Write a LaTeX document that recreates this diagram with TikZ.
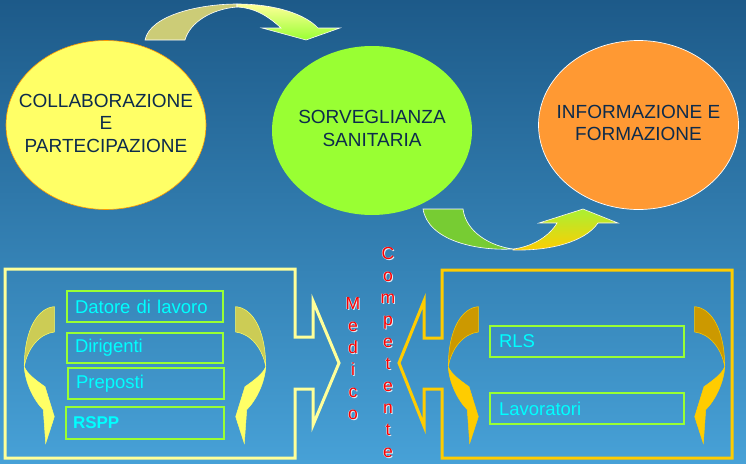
\documentclass[tikz,border=0pt]{standalone}
\usepackage{fontspec}
\setmainfont{Liberation Sans}
\usepackage{tikz}
\usetikzlibrary{shapes.geometric,positioning,calc}
\definecolor{sfondoalto} {HTML}{1D5A89}
\definecolor{sfondomedio}{HTML}{3383B6}
\definecolor{sfondobasso}{HTML}{47A1D7}
\definecolor{giallo}     {HTML}{FFFF66}
\definecolor{verde}      {HTML}{99FF33}
\definecolor{arancio}    {HTML}{FF9933}
\definecolor{testoscuro} {HTML}{0D2B4C}
\definecolor{ciano}      {HTML}{00FFFF}
\definecolor{cornicegialla}{HTML}{FFFF99}
\definecolor{corniceoro} {HTML}{FFCC00}
\definecolor{kaki}       {HTML}{CCCC77}
\definecolor{kakiscuro}  {HTML}{CCCC55}
\definecolor{oroscuro}   {HTML}{CC9900}
\definecolor{verdeprato} {HTML}{77CC33}
\definecolor{lime}       {HTML}{AAF033}
\definecolor{ombra}      {HTML}{E4ECF2}
\newcommand\contorno[1]{\rlap{\color{ombra}\hspace{1pt}\raisebox{-1pt}{#1}}\rlap{\color{ombra}\hspace{-0.5pt}\raisebox{0.5pt}{#1}}#1}
\newcommand\righe[1]{\makebox[0pt]{\begin{tabular}{@{}c@{}}#1\end{tabular}}}

\begin{document}
\begin{tikzpicture}[
  x=1pt, y=-1pt,
  tema/.style   ={ellipse,inner sep=0pt,minimum width=200,minimum height=169,
                  text=testoscuro,font=\fontsize{19}{22.5}\selectfont},
  ruolo/.style  ={draw=verde,line width=1.1,minimum height=31,inner xsep=8pt,
                  align=left,text=ciano,font=\fontsize{18.5}{20}\selectfont},
  cornice/.style={line width=3,line join=miter},
  lettera/.style={inner sep=0pt,text height=12,text depth=3,text=red,
                  font=\fontsize{17.5}{17}\selectfont},
  pics/frecciacurva/.style 2 args={code={
    \filldraw[fill=#1,draw=#2,line width=0.5] (0,0)
      .. controls (-16,1) and (-30,22) .. (-30,60)
      .. controls (-27,42) and (-15,27) .. (0,25.3) -- cycle;
    \filldraw[fill=#2,draw=#2,line width=0.5] (-30,60)
      .. controls (-29.3,75) and (-21,93) .. (-11,103)
      -- (-8.6,136.6) -- (0,110) -- (-9.3,80)
      .. controls (-19.3,73) and (-27.6,66.6) .. (-30,60) -- cycle;
  }}
]
%% Sfondo
\useasboundingbox (0,0) rectangle (746,463);
\shade[top color=sfondoalto,middle color=sfondomedio,bottom color=sfondobasso]
  (0,0) rectangle (746,463);
%% Ellissi
\node[tema,fill=giallo,draw=orange!80!yellow,line width=0.6] (collab) at (106,125)
  {\righe{COLLABORAZIONE\\E\\PARTECIPAZIONE}};
\node[tema,fill=verde] (sorv) at (372,130.5) {\righe{SORVEGLIANZA\\SANITARIA}};
\node[tema,fill=arancio,draw=white,line width=0.7] (info) at (638.5,125)
  {\righe{INFORMAZIONE E\\FORMAZIONE}};
%% Freccia curva in alto (collab -> sorv)
\filldraw[fill=kaki,draw=white,line width=0.6] (145,40)
  .. controls (150,15) and (200,4) .. (237,4) -- (237,7)
  .. controls (212,9) and (190,22) .. (185,40) -- cycle;
\filldraw[top color=yellow!40!white,bottom color=verde,draw=white,line width=0.6] (237,4)
  .. controls (275,4) and (305,14) .. (318,28) -- (340,28) -- (306,40)
  -- (262,28) -- (281,28) .. controls (268,16) and (255,8) .. (237,7) -- cycle;
%% Freccia curva in basso (sorv -> info)
\filldraw[fill=verdeprato,draw=white,line width=0.6] (423,209) -- (463,209)
  .. controls (466,232) and (490,246) .. (513,249)
  .. controls (475,251) and (428,240) .. (423,209) -- cycle;
\filldraw[top color=lime,bottom color=corniceoro,draw=white,line width=0.6] (513,250)
  .. controls (550,251) and (585,242) .. (598,223) -- (618,223) -- (583,209)
  -- (539,223) -- (557,223) .. controls (548,238) and (530,247) .. (513,249) -- cycle;
%% Riquadro sinistro (freccia verso destra)
\draw[cornice,draw=cornicegialla] (5,269) -- (295,269) -- (295,337) -- (313,337)
  -- (313,301) -- (339,363) -- (313,425) -- (313,389) -- (295,389)
  -- (295,458) -- (5,458) -- cycle;
\node[ruolo,text width=140] (datore)    at (145,306.5) {Datore di lavoro};
\node[ruolo,text width=140,minimum height=30] (dirigenti) at (145,348) {Dirigenti};
\node[ruolo,text width=140] (preposti)  at (146,383.5) {Preposti};
\node[ruolo,text width=144,line width=2.4,minimum height=32,inner xsep=7pt,
      font=\fontsize{17}{18}\selectfont\bfseries] (rspp) at (145,423) {RSPP};
\pic at (54.3,306.7) {frecciacurva={kakiscuro}{giallo}};
\pic[xscale=-1] at (235.7,306.7) {frecciacurva={kakiscuro}{giallo}};
%% Riquadro destro (freccia verso sinistra)
\draw[cornice,draw=corniceoro] (442,270) -- (732,270) -- (732,458) -- (442,458)
  -- (442,389) -- (424,389) -- (424,426) -- (399,363) -- (424,301)
  -- (424,338) -- (442,338) -- cycle;
\node[ruolo,text width=176,inner xsep=9pt] (rls)        at (587,341.5) {RLS};
\node[ruolo,text width=176,inner xsep=9pt] (lavoratori) at (587,408.5) {Lavoratori};
\pic at (478.3,306.7) {frecciacurva={oroscuro}{corniceoro}};
\pic[xscale=-1] at (694.7,306.7) {frecciacurva={oroscuro}{corniceoro}};
%% Medico Competente (verticale)
\foreach \c [count=\i from 0] in {M,e,d,i,c,o}
  \node[lettera] (medico\i) at (353,305+22*\i) {\contorno{\c}};
\foreach \c [count=\i from 0] in {C,o,m,p,e,t,e,n,t,e}
  \node[lettera] (comp\i) at (388,255+22*\i) {\contorno{\c}};
\end{tikzpicture}
\end{document}
